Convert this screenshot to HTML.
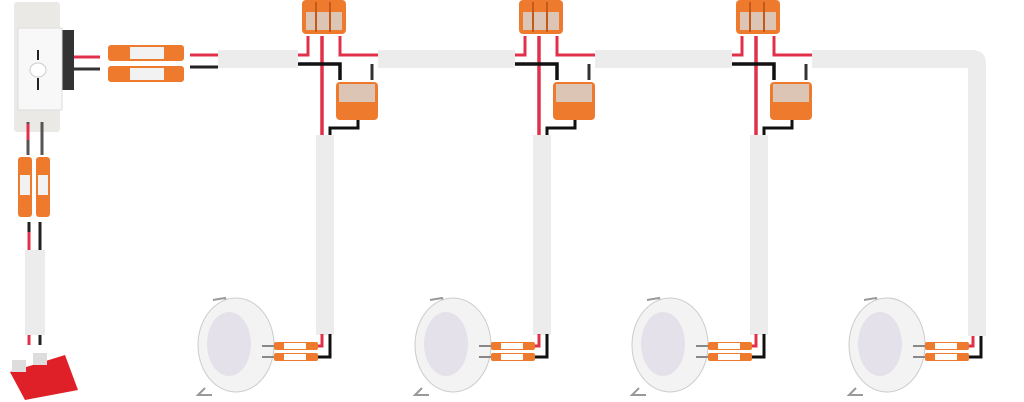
<!DOCTYPE html>
<html><head><style>body{margin:0;background:#fff}svg{display:block}</style></head><body>
<svg width="1024" height="402" viewBox="0 0 1024 402" xmlns="http://www.w3.org/2000/svg">
<defs>
<g id="junc">
 <rect x="302" y="0" width="44" height="34" rx="4" fill="#ee7a2e"/>
 <rect x="306" y="12" width="36" height="18" fill="#d8d8d8" opacity=".8"/>
 <line x1="316" y1="2" x2="316" y2="32" stroke="#c45a1a" stroke-width="2"/>
 <line x1="330" y1="2" x2="330" y2="32" stroke="#c45a1a" stroke-width="2"/>
 <path d="M308 36 V55 H298" stroke="#e0304a" stroke-width="3" fill="none"/>
 <path d="M322 36 V135" stroke="#e0304a" stroke-width="3.5" fill="none"/>
 <path d="M340 36 V55 H378" stroke="#e0304a" stroke-width="3" fill="none"/>
 <path d="M298 64 H340 V80" stroke="#111" stroke-width="3.5" fill="none"/>
 <path d="M372 64 V80" stroke="#333" stroke-width="3" fill="none"/>
 <rect x="336" y="82" width="42" height="38" rx="4" fill="#ee7a2e"/>
 <rect x="339" y="84" width="36" height="18" fill="#d8d8d8" opacity=".8"/>
 <path d="M358 120 V128 H330 V135" stroke="#111" stroke-width="3" fill="none"/>
</g>
<g id="lamp">
 <path d="M213 300 L225 298 L230 310" stroke="#999" stroke-width="2" fill="none"/>
 <path d="M205 388 L198 395 L212 395" stroke="#999" stroke-width="2" fill="none"/>
 <ellipse cx="236" cy="345" rx="38" ry="47" fill="#f3f3f3" stroke="#ccc"/>
 <ellipse cx="229" cy="344" rx="22" ry="32" fill="#e4e1ea"/>
 <path d="M262 346 H285 M262 357 H285" stroke="#888" stroke-width="2"/>
 <rect x="274" y="342" width="44" height="8" rx="2" fill="#ee7a2e"/>
 <rect x="284" y="343" width="22" height="6" fill="#fff"/>
 <rect x="274" y="353" width="44" height="8" rx="2" fill="#ee7a2e"/>
 <rect x="284" y="354" width="22" height="6" fill="#fff"/>
 <path d="M318 346 H322 V334" stroke="#e0304a" stroke-width="3" fill="none"/>
 <path d="M318 357 H330 V334" stroke="#111" stroke-width="3" fill="none"/>
</g>
</defs>
<!-- main horizontal cable -->
<rect x="218" y="50" width="80" height="18" fill="#ececec"/>
<rect x="378" y="50" width="137" height="18" fill="#ececec"/>
<rect x="595" y="50" width="137" height="18" fill="#ececec"/>
<path d="M812 50 H972 Q986 50 986 64 V336 H968 V68 H812 Z" fill="#ececec"/>
<!-- vertical cables -->
<rect x="316" y="135" width="18" height="200" fill="#ececec"/>
<rect x="533" y="135" width="18" height="200" fill="#ececec"/>
<rect x="750" y="135" width="18" height="200" fill="#ececec"/>
<use href="#junc"/>
<use href="#junc" transform="translate(217,0)"/>
<use href="#junc" transform="translate(434,0)"/>
<use href="#lamp"/>
<use href="#lamp" transform="translate(217,0)"/>
<use href="#lamp" transform="translate(434,0)"/>
<g transform="translate(651,0)"><path d="M213 300 L225 298 L230 310" stroke="#999" stroke-width="2" fill="none"/>
 <path d="M205 388 L198 395 L212 395" stroke="#999" stroke-width="2" fill="none"/>
 <ellipse cx="236" cy="345" rx="38" ry="47" fill="#f3f3f3" stroke="#ccc"/>
 <ellipse cx="229" cy="344" rx="22" ry="32" fill="#e4e1ea"/>
 <path d="M262 346 H285 M262 357 H285" stroke="#888" stroke-width="2"/>
 <rect x="274" y="342" width="44" height="8" rx="2" fill="#ee7a2e"/><rect x="284" y="343" width="22" height="6" fill="#fff"/>
 <rect x="274" y="353" width="44" height="8" rx="2" fill="#ee7a2e"/><rect x="284" y="354" width="22" height="6" fill="#fff"/>
 <path d="M318 346 H322 V336" stroke="#e0304a" stroke-width="3" fill="none"/>
 <path d="M318 357 H330 V336" stroke="#111" stroke-width="3" fill="none"/></g>
<!-- switch -->
<rect x="14" y="2" width="46" height="130" rx="3" fill="#ebe9e6"/>
<rect x="62" y="30" width="12" height="60" fill="#333"/>
<rect x="18" y="28" width="44" height="82" fill="#f8f8f8" stroke="#ddd"/>
<ellipse cx="38" cy="70" rx="8" ry="7" fill="#fff" stroke="#ccc"/>
<line x1="38" y1="50" x2="38" y2="60" stroke="#222" stroke-width="2"/>
<line x1="38" y1="78" x2="38" y2="90" stroke="#222" stroke-width="2"/>
<path d="M74 57 H100" stroke="#e0304a" stroke-width="3"/>
<path d="M74 69 H100" stroke="#333" stroke-width="3"/>
<rect x="108" y="45" width="76" height="16" rx="3" fill="#ee7a2e"/><rect x="130" y="47" width="34" height="12" fill="#f2f2f2"/>
<rect x="108" y="66" width="76" height="16" rx="3" fill="#ee7a2e"/><rect x="130" y="68" width="34" height="12" fill="#f2f2f2"/>
<path d="M190 55 H218" stroke="#e0304a" stroke-width="3"/>
<path d="M190 67 H218" stroke="#222" stroke-width="3"/>
<path d="M28 122 V155 M42 122 V155" stroke="#555" stroke-width="3"/>
<path d="M28 124 V140" stroke="#e0304a" stroke-width="3"/>
<rect x="18" y="157" width="14" height="60" rx="3" fill="#ee7a2e"/><rect x="20" y="175" width="10" height="20" fill="#f2f2f2"/>
<rect x="36" y="157" width="14" height="60" rx="3" fill="#ee7a2e"/><rect x="38" y="175" width="10" height="20" fill="#f2f2f2"/>
<path d="M29 222 V250 M40 222 V250" stroke="#222" stroke-width="3"/>
<path d="M29 232 V250" stroke="#e0304a" stroke-width="3"/>
<rect x="25" y="250" width="20" height="85" fill="#ececec"/>
<path d="M29 335 V345" stroke="#e0304a" stroke-width="3"/><path d="M40 335 V345" stroke="#222" stroke-width="3"/>
<path d="M10 372 L65 355 L78 390 L25 400 Z" fill="#e02028"/>
<rect x="12" y="360" width="14" height="12" fill="#ddd"/><rect x="33" y="353" width="14" height="12" fill="#ddd"/>
</svg>
</body></html>
